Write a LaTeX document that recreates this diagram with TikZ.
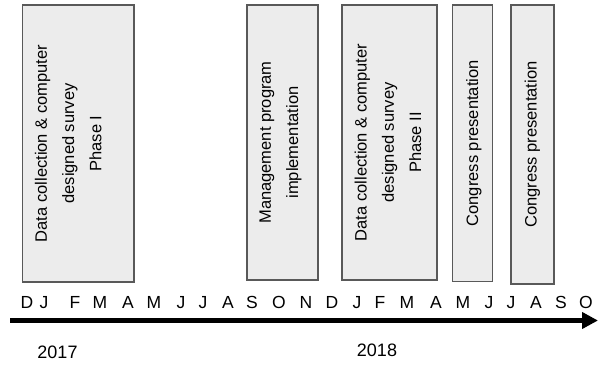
\documentclass[tikz,border=0pt]{standalone}
\usepackage{fontspec}
\setmainfont{Liberation Sans}
\usetikzlibrary{arrows.meta}
\begin{document}
\begin{tikzpicture}[x=1pt,y=-1pt,
taskbox/.style = {draw=black!65, line width=1.3pt, fill=gray!15, rectangle, inner sep=0pt},
boxtext/.style = {rotate=90, anchor=north, align=center, inner sep=0pt, font=\fontsize{16.5}{27.3}\selectfont},
month/.style = {inner sep=0pt, font=\fontsize{17.5}{19}\selectfont},
year/.style = {inner sep=0pt, font=\fontsize{18}{20}\selectfont}]
\useasboundingbox (0,0) rectangle (598,369);

% activity boxes
\node[taskbox, minimum width=111.3pt, minimum height=277pt] (1) at (78.4,143.5) {};
\node[taskbox, minimum width=71pt, minimum height=275pt] (2) at (282.5,142.5) {};
\node[taskbox, minimum width=95pt, minimum height=275pt] (3) at (389.5,142.5) {};
\node[taskbox, minimum width=40pt, minimum height=276.7pt] (4) at (472.7,143.3) {};
\node[taskbox, minimum width=43pt, minimum height=279pt] (5) at (532.5,144.5) {};

\node[boxtext] (t1) at ([xshift=12.5pt]1.west) {Data collection \& computer\\designed survey\\Phase I};
\node[boxtext] (t2) at ([xshift=13pt]2.west) {Management program\\implementation};
\node[boxtext] (t3) at ([xshift=13pt]3.west) {Data collection \& computer\\designed survey\\Phase II};
\node[boxtext] (t4) at ([xshift=14pt]4.west) {Congress presentation};
\node[boxtext] (t5) at ([xshift=14pt]5.west) {Congress presentation};

% months
\foreach \x/\m in {27/D,44/J,75/F,100/M,128/A,154/M,181/J,203/J,228/A,252/S,279/O,306/N,
                   332/D,357/J,380/F,407/M,436/A,463/M,489/J,511/J,536/A,561/S,586/O}
    \node[month] (m\x) at (\x,302.5) {\m};

% time axis
\coordinate (start) at (10,320.5);
\coordinate (tip) at (598,320.5);
\draw[line width=5pt, -{Triangle[length=16pt,width=16pt]}] (start) -- (tip);

\node[year] (y17) at (57.5,352.5) {2017};
\node[year] (y18) at (377,350) {2018};
\end{tikzpicture}
\end{document}
